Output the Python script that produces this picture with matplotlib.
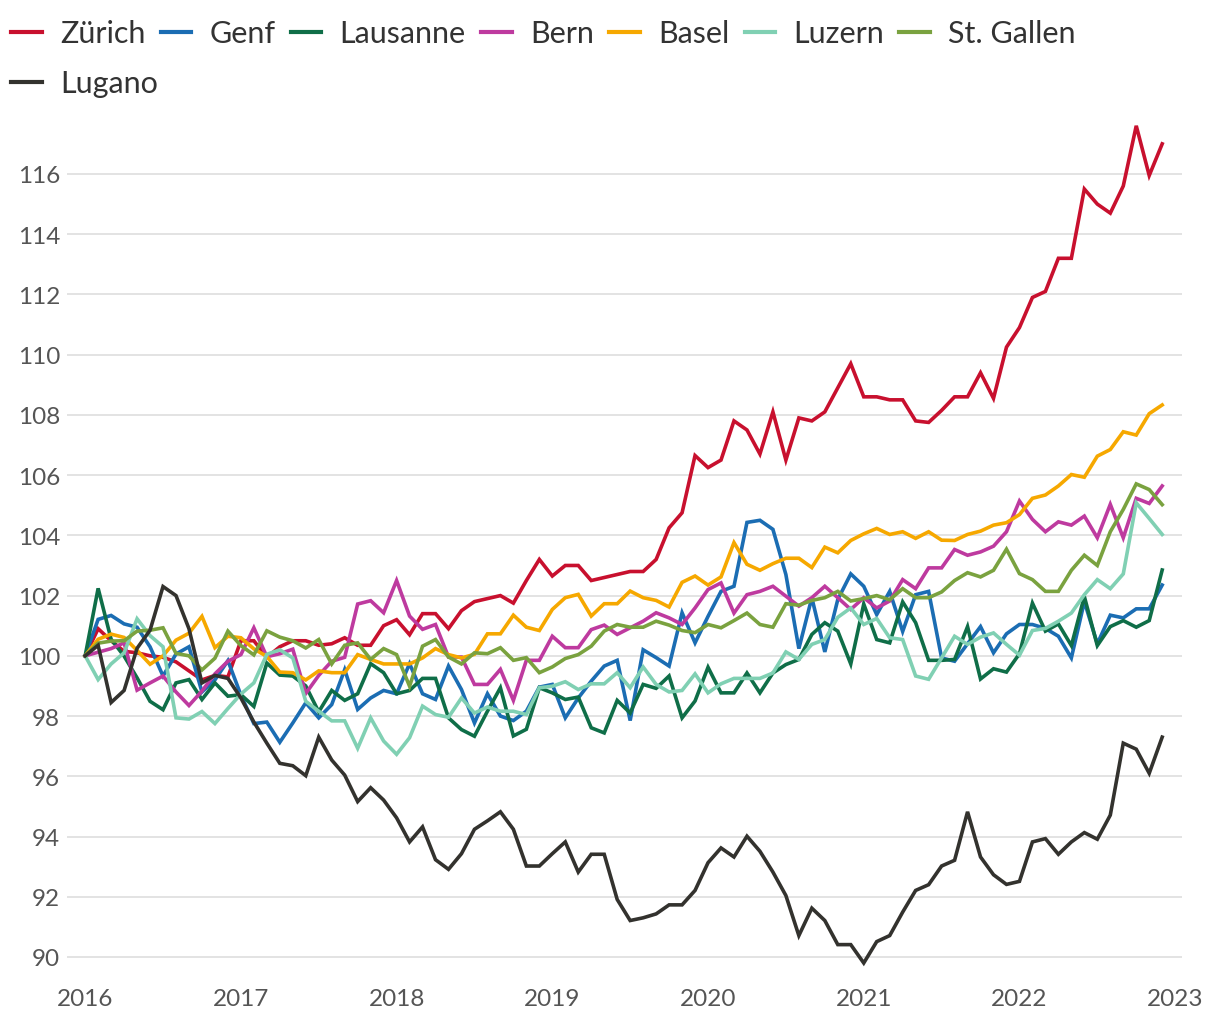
import numpy as np
import matplotlib.pyplot as plt
from matplotlib.lines import Line2D

# monthly index values, Jan 2016 .. Dec 2022 (2016-01 = 100)
zuerich = [100, 100.9, 100.5, 100.15, 100.1, 100.0, 99.95, 99.8, 99.5, 99.2,
           99.35, 99.3, 100.5, 100.5, 99.95, 100.3, 100.5, 100.5, 100.35, 100.4,
           100.6, 100.35, 100.35, 101.0, 101.2, 100.7, 101.4, 101.4, 100.9, 101.5,
           101.8, 101.9, 102.0, 101.75, 102.5, 103.2, 102.65, 103.0, 103.0, 102.5,
           102.6, 102.7, 102.8, 102.8, 103.2, 104.25, 104.75, 106.65, 106.25, 106.5,
           107.8, 107.5, 106.7, 108.1, 106.5, 107.9, 107.8, 108.1, 108.9, 109.7,
           108.6, 108.6, 108.5, 108.5, 107.8, 107.75, 108.15, 108.6, 108.6, 109.4,
           108.55, 110.25, 110.9, 111.9, 112.1, 113.2, 113.2, 115.5, 115.0, 114.7,
           115.6, 117.6, 115.95, 117.0]
genf = [100, 101.21, 101.34, 101.06, 100.95, 100.3, 99.33, 100.06, 100.3, 98.8,
        99.2, 99.84, 98.7, 97.75, 97.8, 97.13, 97.77, 98.44, 97.94, 98.38,
        99.54, 98.22, 98.6, 98.85, 98.74, 99.74, 98.74, 98.55, 99.66, 98.88,
        97.77, 98.74, 98.0, 97.85, 98.16, 98.96, 99.05, 97.94, 98.6, 99.16,
        99.66, 99.85, 97.85, 100.2, 99.94, 99.66, 101.43, 100.43, 101.31, 102.14,
        102.31, 104.43, 104.5, 104.2, 102.7, 100.24, 101.93, 100.13, 101.87, 102.72,
        102.31, 101.37, 102.14, 100.81, 102.03, 102.14, 99.93, 99.82, 100.4, 100.97,
        100.1, 100.73, 101.04, 101.04, 100.91, 100.65, 99.93, 101.8, 100.4, 101.35,
        101.26, 101.56, 101.56, 102.35]
lausanne = [100, 102.24, 100.55, 99.99, 99.27, 98.49, 98.21, 99.1, 99.21, 98.55,
            99.1, 98.66, 98.71, 98.32, 99.76, 99.36, 99.33, 99.0, 98.14, 98.85,
            98.52, 98.74, 99.74, 99.44, 98.74, 98.85, 99.25, 99.25, 97.94, 97.55,
            97.33, 98.16, 98.94, 97.34, 97.56, 98.94, 98.77, 98.55, 98.63, 97.61,
            97.44, 98.52, 98.1, 99.05, 98.92, 99.33, 97.94, 98.5, 99.62, 98.77,
            98.77, 99.43, 98.77, 99.43, 99.71, 99.88, 100.71, 101.1, 100.82, 99.73,
            101.72, 100.54, 100.43, 101.79, 101.1, 99.85, 99.85, 99.88, 100.97, 99.23,
            99.57, 99.46, 100.07, 101.75, 100.82, 101.06, 100.34, 101.97, 100.34, 100.97,
            101.17, 100.95, 101.17, 102.85]
bern = [100, 100.12, 100.24, 100.43, 98.86, 99.1, 99.33, 98.8, 98.35, 98.83,
        99.4, 99.82, 100.04, 100.93, 99.97, 100.07, 100.22, 98.75, 99.35, 99.82,
        99.95, 101.72, 101.83, 101.43, 102.5, 101.32, 100.88, 101.04, 99.96, 99.96,
        99.05, 99.05, 99.55, 98.52, 99.85, 99.85, 100.65, 100.27, 100.27, 100.87,
        101.02, 100.71, 100.93, 101.15, 101.43, 101.26, 101.04, 101.59, 102.2, 102.42,
        101.42, 102.03, 102.14, 102.31, 101.98, 101.65, 101.93, 102.31, 101.93, 101.54,
        101.93, 101.59, 101.82, 102.53, 102.23, 102.92, 102.92, 103.53, 103.34, 103.45,
        103.64, 104.12, 105.14, 104.53, 104.12, 104.45, 104.34, 104.64, 103.92, 105.03,
        103.92, 105.23, 105.06, 105.64]
basel = [100, 100.55, 100.72, 100.61, 100.18, 99.72, 100.0, 100.52, 100.75, 101.31,
         100.27, 100.65, 100.6, 100.23, 99.98, 99.46, 99.44, 99.2, 99.5, 99.44,
         99.44, 100.04, 99.88, 99.73, 99.73, 99.73, 99.93, 100.24, 100.04, 99.93,
         100.05, 100.73, 100.73, 101.35, 100.95, 100.84, 101.54, 101.93, 102.04, 101.32,
         101.73, 101.73, 102.15, 101.93, 101.84, 101.62, 102.44, 102.65, 102.35, 102.62,
         103.76, 103.04, 102.84, 103.06, 103.24, 103.24, 102.93, 103.61, 103.42, 103.83,
         104.05, 104.23, 104.03, 104.12, 103.9, 104.12, 103.84, 103.83, 104.03, 104.14,
         104.34, 104.42, 104.69, 105.23, 105.34, 105.64, 106.02, 105.93, 106.63, 106.85,
         107.44, 107.33, 108.04, 108.33]
luzern = [100, 99.21, 99.73, 100.1, 101.23, 100.67, 100.3, 97.94, 97.9, 98.15,
          97.75, 98.25, 98.73, 99.1, 100.05, 100.2, 99.93, 98.49, 98.16, 97.84,
          97.84, 96.93, 97.94, 97.17, 96.73, 97.28, 98.33, 98.05, 97.96, 98.6,
          98.1, 98.3, 98.16, 98.16, 98.05, 98.94, 98.99, 99.14, 98.88, 99.07,
          99.07, 99.44, 98.94, 99.63, 99.05, 98.8, 98.85, 99.4, 98.77, 99.07,
          99.25, 99.25, 99.25, 99.43, 100.13, 99.88, 100.38, 100.54, 101.28, 101.59,
          101.04, 101.24, 100.6, 100.54, 99.33, 99.22, 99.93, 100.65, 100.38, 100.62,
          100.76, 100.38, 100.02, 100.84, 100.91, 101.15, 101.42, 102.03, 102.53, 102.23,
          102.72, 105.08, 104.56, 104.03]
st_gallen = [100, 100.42, 100.49, 100.5, 100.82, 100.85, 100.93, 100.08, 100.0, 99.53,
             99.92, 100.82, 100.34, 100.03, 100.83, 100.62, 100.5, 100.26, 100.54, 99.73,
             100.35, 100.43, 99.88, 100.24, 100.04, 98.99, 100.32, 100.54, 99.96, 99.73,
             100.1, 100.07, 100.27, 99.85, 99.94, 99.44, 99.63, 99.91, 100.04, 100.32,
             100.82, 101.04, 100.95, 100.95, 101.15, 101.02, 100.84, 100.77, 101.04, 100.93,
             101.17, 101.42, 101.04, 100.95, 101.73, 101.68, 101.84, 101.93, 102.14, 101.82,
             101.9, 102.0, 101.86, 102.23, 101.93, 101.93, 102.12, 102.5, 102.76, 102.62,
             102.84, 103.54, 102.73, 102.53, 102.14, 102.14, 102.84, 103.34, 103.0, 104.12,
             104.86, 105.71, 105.52, 105.02]
lugano = [100, 100.35, 98.45, 98.85, 100.25, 100.85, 102.3, 102.0, 100.9, 99.1,
          99.35, 99.25, 98.6, 97.8, 97.1, 96.43, 96.35, 96.02, 97.3, 96.54,
          96.04, 95.16, 95.62, 95.21, 94.62, 93.82, 94.32, 93.23, 92.91, 93.43,
          94.24, 94.52, 94.82, 94.24, 93.02, 93.02, 93.43, 93.82, 92.82, 93.41,
          93.41, 91.91, 91.21, 91.3, 91.43, 91.73, 91.73, 92.21, 93.13, 93.62,
          93.32, 94.01, 93.51, 92.82, 92.04, 90.71, 91.62, 91.21, 90.41, 90.41,
          89.8, 90.51, 90.71, 91.49, 92.21, 92.4, 93.02, 93.21, 94.82, 93.32,
          92.73, 92.41, 92.51, 93.82, 93.93, 93.41, 93.82, 94.13, 93.91, 94.71,
          97.1, 96.9, 96.1, 97.3]

cities = ['Zürich', 'Genf', 'Lausanne', 'Bern', 'Basel', 'Luzern', 'St. Gallen', 'Lugano']
series = [zuerich, genf, lausanne, bern, basel, luzern, st_gallen, lugano]
colors = ['#c8102e', '#1b6db3', '#0f6e48', '#be3a9f', '#f6a800', '#80d0b3', '#7aa23f', '#33322e']

x = 2016 + np.arange(len(zuerich)) / 12
years = list(range(2016, 2024))
y_ticks = list(range(90, 118, 2))

plt.rcParams['font.family'] = ['Lato', 'DejaVu Sans']

fig = plt.figure(figsize=(12.2, 10.2), dpi=100)
ax = fig.add_axes([0.055, 0.0431, 0.914, 0.8444])

for name, vals, c in zip(cities, series, colors):
    ax.plot(x, vals, color=c, lw=2.6, label=name, solid_joinstyle='miter')

ax.set_xlim(2016 - 0.116, 2023 + 0.045)
ax.set_ylim(89.4, 118.0)
ax.set_xticks(years)
ax.set_xticklabels([str(y) for y in years])
ax.set_yticks(y_ticks)
ax.grid(axis='y', color='#e3e3e3', lw=1.4)
ax.set_axisbelow(True)
for s in ax.spines.values():
    s.set_visible(False)
ax.tick_params(length=0, labelsize=17.5, labelcolor='#555555')
ax.tick_params(axis='y', pad=5)
ax.tick_params(axis='x', pad=9)

# legend: first row of seven cities, Lugano alone on the second row
handles = [Line2D([], [], color=c, lw=3) for c in colors]
leg_kw = dict(loc='upper left', frameon=False, fontsize=22, handlelength=1.0,
              handletextpad=0.6, columnspacing=0.5, borderaxespad=0.0,
              borderpad=0.2, labelcolor='#333333')
fig.legend(handles[:7], cities[:7], bbox_to_anchor=(0.004, 0.986), ncol=7, **leg_kw)
fig.legend(handles[7:], cities[7:], bbox_to_anchor=(0.004, 0.937), **leg_kw)

fig.savefig('out.png', dpi=100)
